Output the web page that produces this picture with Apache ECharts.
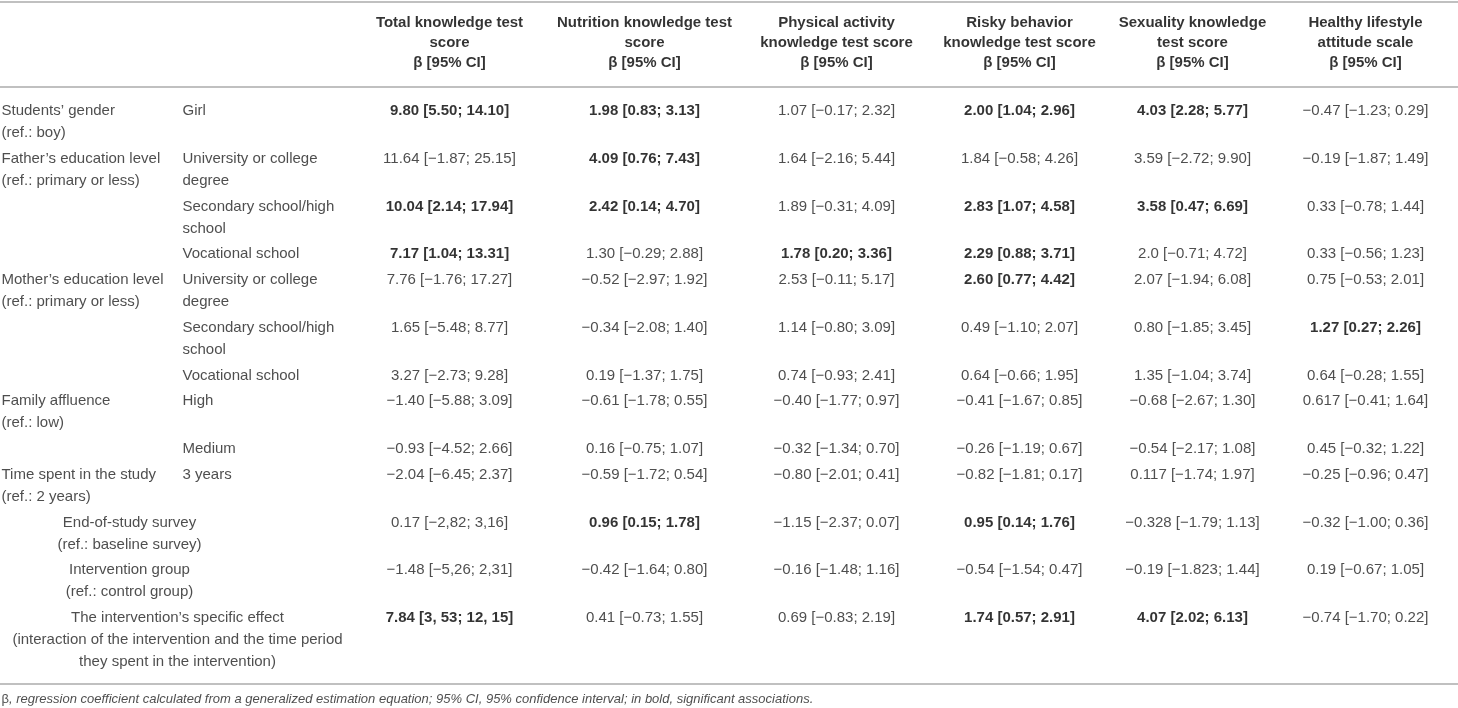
<!DOCTYPE html>
<html>
<head>
    <meta charset="utf-8">
    <title>GEE results table</title>
    <style>
        html, body { margin: 0; padding: 0; background: #fff; }
    </style>
</head>
<body>
<div id="main" style="width: 1458px; height: 708px;"></div>

<script src="https://cdn.jsdelivr.net/npm/echarts@6/dist/echarts.min.js"></script>
<script>
    // ---- table content ----
    var headers = [
        'Total knowledge test\nscore\nβ [95% CI]',
        'Nutrition knowledge test\nscore\nβ [95% CI]',
        'Physical activity\nknowledge test score\nβ [95% CI]',
        'Risky behavior\nknowledge test score\nβ [95% CI]',
        'Sexuality knowledge\ntest score\nβ [95% CI]',
        'Healthy lifestyle\nattitude scale\nβ [95% CI]'
    ];

    // null level = label spans the first two columns
    var groupLabels = [
        'Students\u2019 gender\n(ref.: boy)',
        'Father\u2019s education level\n(ref.: primary or less)',
        '',
        '',
        'Mother\u2019s education level\n(ref.: primary or less)',
        '',
        '',
        'Family affluence\n(ref.: low)',
        '',
        'Time spent in the study\n(ref.: 2 years)',
        'End-of-study survey\n(ref.: baseline survey)',
        'Intervention group\n(ref.: control group)',
        'The intervention\u2019s specific effect\n(interaction of the intervention and the time period\nthey spent in the intervention)'
    ];
    var levelLabels = [
        'Girl',
        'University or college\ndegree',
        'Secondary school/high\nschool',
        'Vocational school',
        'University or college\ndegree',
        'Secondary school/high\nschool',
        'Vocational school',
        'High',
        'Medium',
        '3 years',
        null,
        null,
        null
    ];

    var totalScore = ['9.80 [5.50; 14.10]', '11.64 [−1.87; 25.15]', '10.04 [2.14; 17.94]', '7.17 [1.04; 13.31]',
        '7.76 [−1.76; 17.27]', '1.65 [−5.48; 8.77]', '3.27 [−2.73; 9.28]', '−1.40 [−5.88; 3.09]',
        '−0.93 [−4.52; 2.66]', '−2.04 [−6.45; 2.37]', '0.17 [−2,82; 3,16]', '−1.48 [−5,26; 2,31]',
        '7.84 [3, 53; 12, 15]'];
    var nutritionScore = ['1.98 [0.83; 3.13]', '4.09 [0.76; 7.43]', '2.42 [0.14; 4.70]', '1.30 [−0.29; 2.88]',
        '−0.52 [−2.97; 1.92]', '−0.34 [−2.08; 1.40]', '0.19 [−1.37; 1.75]', '−0.61 [−1.78; 0.55]',
        '0.16 [−0.75; 1.07]', '−0.59 [−1.72; 0.54]', '0.96 [0.15; 1.78]', '−0.42 [−1.64; 0.80]',
        '0.41 [−0.73; 1.55]'];
    var physicalScore = ['1.07 [−0.17; 2.32]', '1.64 [−2.16; 5.44]', '1.89 [−0.31; 4.09]', '1.78 [0.20; 3.36]',
        '2.53 [−0.11; 5.17]', '1.14 [−0.80; 3.09]', '0.74 [−0.93; 2.41]', '−0.40 [−1.77; 0.97]',
        '−0.32 [−1.34; 0.70]', '−0.80 [−2.01; 0.41]', '−1.15 [−2.37; 0.07]', '−0.16 [−1.48; 1.16]',
        '0.69 [−0.83; 2.19]'];
    var riskyScore = ['2.00 [1.04; 2.96]', '1.84 [−0.58; 4.26]', '2.83 [1.07; 4.58]', '2.29 [0.88; 3.71]',
        '2.60 [0.77; 4.42]', '0.49 [−1.10; 2.07]', '0.64 [−0.66; 1.95]', '−0.41 [−1.67; 0.85]',
        '−0.26 [−1.19; 0.67]', '−0.82 [−1.81; 0.17]', '0.95 [0.14; 1.76]', '−0.54 [−1.54; 0.47]',
        '1.74 [0.57; 2.91]'];
    var sexualityScore = ['4.03 [2.28; 5.77]', '3.59 [−2.72; 9.90]', '3.58 [0.47; 6.69]', '2.0 [−0.71; 4.72]',
        '2.07 [−1.94; 6.08]', '0.80 [−1.85; 3.45]', '1.35 [−1.04; 3.74]', '−0.68 [−2.67; 1.30]',
        '−0.54 [−2.17; 1.08]', '0.117 [−1.74; 1.97]', '−0.328 [−1.79; 1.13]', '−0.19 [−1.823; 1.44]',
        '4.07 [2.02; 6.13]'];
    var attitudeScale = ['−0.47 [−1.23; 0.29]', '−0.19 [−1.87; 1.49]', '0.33 [−0.78; 1.44]', '0.33 [−0.56; 1.23]',
        '0.75 [−0.53; 2.01]', '1.27 [0.27; 2.26]', '0.64 [−0.28; 1.55]', '0.617 [−0.41; 1.64]',
        '0.45 [−0.32; 1.22]', '−0.25 [−0.96; 0.47]', '−0.32 [−1.00; 0.36]', '0.19 [−0.67; 1.05]',
        '−0.74 [−1.70; 0.22]'];

    // 1 = significant association (bold)
    var totalBold     = [1, 0, 1, 1, 0, 0, 0, 0, 0, 0, 0, 0, 1];
    var nutritionBold = [1, 1, 1, 0, 0, 0, 0, 0, 0, 0, 1, 0, 0];
    var physicalBold  = [0, 0, 0, 1, 0, 0, 0, 0, 0, 0, 0, 0, 0];
    var riskyBold     = [1, 0, 1, 1, 1, 0, 0, 0, 0, 0, 1, 0, 1];
    var sexualityBold = [1, 0, 1, 0, 0, 0, 0, 0, 0, 0, 0, 0, 1];
    var attitudeBold  = [0, 0, 0, 0, 0, 1, 0, 0, 0, 0, 0, 0, 0];

    var footnote = 'regression coefficient calculated from a generalized estimation equation; 95% CI, 95% confidence interval; in bold, significant associations.';

    (function () {
        // ---- layout ----
        var W = 1458, H = 708;
        var FONT = '"Liberation Sans", Arial, Helvetica, sans-serif';
        var groupX = 2, levelX = 183;
        var valueX = [450, 645, 837, 1020, 1193, 1366];
        var spanX = [130, 130, 178];
        var headFirst = 23, headLH = 20;
        var bodyFirst = 111.5, LH = 22, rowPad = 3.75;
        var rules = [2, 87, 684];
        var footY = 700;

        var valueCols = [totalScore, nutritionScore, physicalScore, riskyScore, sexualityScore, attitudeScale];
        var boldCols = [totalBold, nutritionBold, physicalBold, riskyBold, sexualityBold, attitudeBold];

        var nLines = function (s) {
            return s ? s.split('\n').length : 1;
        };

        var cells = [];
        headers.forEach(function (h, j) {
            cells.push({x: valueX[j], y: headFirst - headLH / 2, text: h, bold: true, align: 'center', lh: headLH});
        });

        var lineY = bodyFirst;
        var spanIdx = 0;
        for (var r = 0; r < groupLabels.length; r++) {
            var rowTop = lineY - LH / 2;
            var lines = Math.max(nLines(groupLabels[r]), nLines(levelLabels[r]));
            if (levelLabels[r] === null) {
                cells.push({x: spanX[spanIdx++], y: rowTop, text: groupLabels[r], bold: false, align: 'center', lh: LH});
            } else {
                if (groupLabels[r]) {
                    cells.push({x: groupX, y: rowTop, text: groupLabels[r], bold: false, align: 'left', lh: LH});
                }
                cells.push({x: levelX, y: rowTop, text: levelLabels[r], bold: false, align: 'left', lh: LH});
            }
            for (var j = 0; j < valueCols.length; j++) {
                cells.push({x: valueX[j], y: rowTop, text: valueCols[j][r], bold: boldCols[j][r] === 1, align: 'center', lh: LH});
            }
            lineY += lines * LH + rowPad;
        }

        var cellData = cells.map(function (c) {
            return {
                value: [c.x, c.y],
                label: {
                    align: c.align,
                    fontWeight: c.bold ? 'bold' : 'normal',
                    color: c.bold ? '#000' : '#222',
                    lineHeight: c.lh
                }
            };
        });

        var myChart = echarts.init(document.getElementById('main'));

        var option = {
            backgroundColor: '#fff',
            animation: false,
            grid: {left: 0, right: 0, top: 0, bottom: 0},
            xAxis: {type: 'value', min: 0, max: W, show: false},
            yAxis: {type: 'value', min: 0, max: H, inverse: true, show: false},
            series: [
                {
                    name: 'cells',
                    type: 'scatter',
                    silent: true,
                    symbolSize: 1,
                    itemStyle: {color: 'rgba(0,0,0,0)'},
                    data: cellData,
                    label: {
                        show: true,
                        position: [0, 0],
                        verticalAlign: 'top',
                        fontSize: 15,
                        fontFamily: FONT,
                        formatter: function (p) {
                            return cells[p.dataIndex].text;
                        }
                    },
                    markLine: {
                        silent: true,
                        symbol: ['none', 'none'],
                        label: {show: false},
                        lineStyle: {color: '#ababab', width: 1.6, type: 'solid'},
                        data: rules.map(function (ry) { return {yAxis: ry}; })
                    }
                },
                {
                    name: 'footnote',
                    type: 'scatter',
                    silent: true,
                    symbolSize: 1,
                    itemStyle: {color: 'rgba(0,0,0,0)'},
                    data: [[groupX, footY]],
                    label: {
                        show: true,
                        position: [0, 0],
                        align: 'left',
                        verticalAlign: 'middle',
                        formatter: '{b|β}{i|, ' + footnote + '}',
                        rich: {
                            b: {fontSize: 13, fontFamily: FONT, color: '#222'},
                            i: {fontSize: 13, fontFamily: FONT, fontStyle: 'italic', color: '#222'}
                        }
                    }
                }
            ]
        };

        myChart.setOption(option);
    })();
</script>
</body>
</html>
